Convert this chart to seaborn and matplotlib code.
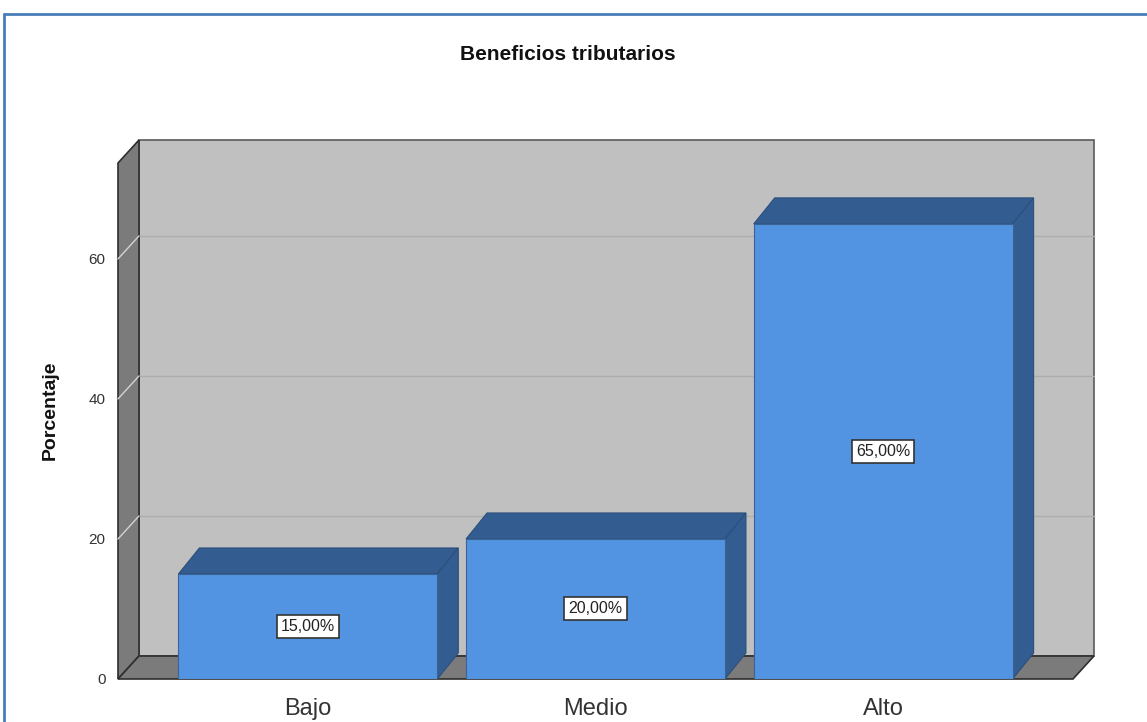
import numpy as np
import pandas as pd
import matplotlib.pyplot as plt
from matplotlib.patches import Polygon, Rectangle
from matplotlib.lines import Line2D
import seaborn as sns

# datos del grafico
categorias = ['Bajo', 'Medio', 'Alto']
porcentajes = [15.0, 20.0, 65.0]
etiquetas = ['15,00%', '20,00%', '65,00%']
yticks = [0, 20, 40, 60]

df = pd.DataFrame({'Nivel': categorias, 'Porcentaje': porcentajes})

sns.set_style('white')
plt.rcParams['font.family'] = ['Liberation Sans', 'DejaVu Sans']

W, H = 1147, 722
fig = plt.figure(figsize=(W / 100, H / 100), dpi=100)
ax = fig.add_axes([118 / W, 43 / H, 955 / W, 516 / H])

# barras frontales
sns.barplot(data=df, x='Nivel', y='Porcentaje', color='#5294e2', saturation=1,
            width=0.9, edgecolor='#3b6391', linewidth=0.8, zorder=4, ax=ax)
barras = list(ax.patches)

xmin, xmax, ymax = -0.66, 2.66, 73.7
ax.set_xlim(xmin, xmax)
ax.set_ylim(0, ymax)

# profundidad en unidades de datos (aprox 21 px, 23 px)
dx = 21 / (955 / (xmax - xmin))
dy = 23 / (516 / ymax)
dyb = 26 / (516 / ymax)

# pared del fondo, pared lateral, piso
ax.add_patch(Rectangle((xmin + dx, dy), xmax - xmin, ymax, fc='#c0c0c0',
                       ec='#5a5a5a', lw=1.2, zorder=0, clip_on=False))
ax.add_patch(Polygon([(xmin, 0), (xmin, ymax), (xmin + dx, ymax + dy), (xmin + dx, dy)],
                     closed=True, fc='#7b7b7b', ec='#2e2e2e', lw=1.2, zorder=1, clip_on=False))
ax.add_patch(Polygon([(xmin, 0), (xmax, 0), (xmax + dx, dy), (xmin + dx, dy)],
                     closed=True, fc='#7b7b7b', ec='#2e2e2e', lw=1.2, zorder=1, clip_on=False))

for v in yticks[1:]:
    ax.plot([xmin + dx, xmax + dx], [v + dy, v + dy], color='#adadad', lw=1, zorder=0.5, clip_on=False)
    ax.plot([xmin, xmin + dx], [v, v + dy], color='#d4d4d4', lw=1, zorder=1.5, clip_on=False)

# caras superior y lateral de las barras
for b, lab in zip(barras, etiquetas):
    x0, w, h = b.get_x(), b.get_width(), b.get_height()
    ax.add_patch(Polygon([(x0, h), (x0 + w, h), (x0 + w + dx, h + dyb), (x0 + dx, h + dyb)],
                         closed=True, fc='#335d91', ec='#2c4f7c', lw=0.8, zorder=3))
    ax.add_patch(Polygon([(x0 + w, 0), (x0 + w + dx, dyb), (x0 + w + dx, h + dyb), (x0 + w, h)],
                         closed=True, fc='#335d91', ec='#2c4f7c', lw=0.8, zorder=3))
    ax.text(x0 + w / 2, h / 2, lab, ha='center', va='center', fontsize=11.5, color='#222222',
            zorder=6, bbox=dict(boxstyle='square,pad=0.25', fc='white', ec='#333333', lw=1.2))

sns.despine(ax=ax, left=True, bottom=True)
ax.set_yticks(yticks)
ax.tick_params(axis='y', length=0, pad=9, labelsize=11, labelcolor='#333333')
ax.tick_params(axis='x', length=0, pad=14, labelsize=17, labelcolor='#333333')
ax.set_xlabel('')
ax.set_ylabel('Porcentaje', fontsize=14, fontweight='bold', color='#111111')
ax.yaxis.set_label_coords(-0.062, 0.52)
ax.patch.set_alpha(0)

fig.text(568 / W, 1 - 55 / H, 'Beneficios tributarios', ha='center', va='center',
         fontsize=15, fontweight='bold', color='#111111')

# marco azul
fig.add_artist(Line2D([4 / W, 4 / W], [0, 1 - 14 / H], color='#4a7ebb', lw=2))
fig.add_artist(Line2D([4 / W, 1], [1 - 14 / H, 1 - 14 / H], color='#4a7ebb', lw=2))

fig.savefig('out.png', dpi=100, facecolor='white')
